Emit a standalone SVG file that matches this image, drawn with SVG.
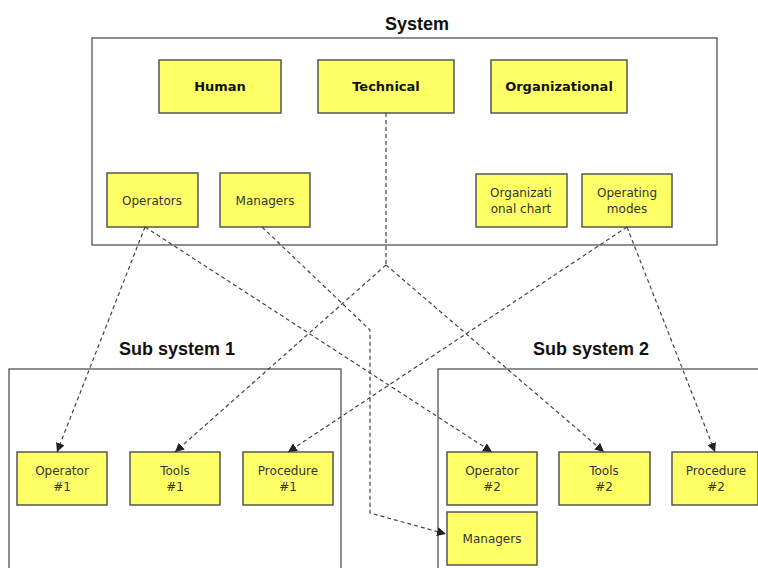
<svg xmlns="http://www.w3.org/2000/svg" width="758" height="568" viewBox="0 0 758 568">
<defs>
<style>
.frame{fill:#fff;stroke:#444;stroke-width:1.2}
.box{fill:#ffff66;stroke:#555;stroke-width:1.5}
.t{font-family:"Liberation Sans",Arial,sans-serif;font-weight:bold;font-size:18px;fill:#111;text-anchor:middle}
.b{font-family:"DejaVu Sans","Noto Sans",sans-serif;font-weight:bold;font-size:13px;fill:#111;text-anchor:middle}
.n{font-family:"DejaVu Sans","Noto Sans",sans-serif;font-size:12px;fill:#333;text-anchor:middle}
.c{fill:none;stroke:#444;stroke-width:1.2;stroke-dasharray:4 3}
</style>
<marker id="ah" viewBox="0 0 10 10" refX="10" refY="5" markerWidth="9" markerHeight="9" markerUnits="userSpaceOnUse" orient="auto">
<path d="M0,0 L10,5 L0,10 z" fill="#222"/>
</marker>
</defs>
<rect width="758" height="568" fill="#fff"/>

<g id="system">
<rect class="frame" x="92" y="38" width="625" height="207"/>
<text class="t" x="417" y="30">System</text>
</g>
<g id="subsystem1">
<rect class="frame" x="9" y="369" width="332" height="210"/>
<text class="t" x="177" y="355">Sub system 1</text>
</g>
<g id="subsystem2">
<rect class="frame" x="438" y="369" width="330" height="210"/>
<text class="t" x="591" y="355">Sub system 2</text>
</g>

<g id="human"><rect class="box" x="159" y="60" width="122" height="53"/><text class="b" x="220" y="91">Human</text></g>
<g id="technical"><rect class="box" x="318" y="60" width="136" height="53"/><text class="b" x="386" y="91">Technical</text></g>
<g id="organizational"><rect class="box" x="491" y="60" width="136" height="53"/><text class="b" x="559" y="91">Organizational</text></g>

<g id="operators"><rect class="box" x="107" y="173" width="91" height="54"/><text class="n" x="152" y="205">Operators</text></g>
<g id="managers"><rect class="box" x="220" y="173" width="90" height="54"/><text class="n" x="265" y="205">Managers</text></g>
<g id="orgchart"><rect class="box" x="476" y="174" width="91" height="53"/><text class="n" x="521" y="197">Organizati</text><text class="n" x="521" y="213">onal chart</text></g>
<g id="opmodes"><rect class="box" x="582" y="174" width="90" height="53"/><text class="n" x="627" y="197">Operating</text><text class="n" x="627" y="213">modes</text></g>

<g id="operator1"><rect class="box" x="17" y="452" width="90" height="53"/><text class="n" x="62" y="475">Operator</text><text class="n" x="62" y="491">#1</text></g>
<g id="tools1"><rect class="box" x="130" y="452" width="90" height="53"/><text class="n" x="175" y="475">Tools</text><text class="n" x="175" y="491">#1</text></g>
<g id="procedure1"><rect class="box" x="243" y="452" width="90" height="53"/><text class="n" x="288" y="475">Procedure</text><text class="n" x="288" y="491">#1</text></g>

<g id="operator2"><rect class="box" x="447" y="452" width="90" height="53"/><text class="n" x="492" y="475">Operator</text><text class="n" x="492" y="491">#2</text></g>
<g id="tools2"><rect class="box" x="559" y="452" width="91" height="53"/><text class="n" x="604" y="475">Tools</text><text class="n" x="604" y="491">#2</text></g>
<g id="procedure2"><rect class="box" x="672" y="452" width="86" height="53"/><text class="n" x="716" y="475">Procedure</text><text class="n" x="716" y="491">#2</text></g>
<g id="managers2"><rect class="box" x="447" y="512" width="90" height="53"/><text class="n" x="492" y="543">Managers</text></g>

<g id="connectors">
<path class="c" d="M386,113 L386,265"/>
<path class="c" d="M386,265 L175,452" marker-end="url(#ah)"/>
<path class="c" d="M386,265 L604,452" marker-end="url(#ah)"/>
<path class="c" d="M145,227 L57,452" marker-end="url(#ah)"/>
<path class="c" d="M145,227 L492,452" marker-end="url(#ah)"/>
<path class="c" d="M262,227 L370,330 L370,513 L446,534" marker-end="url(#ah)"/>
<path class="c" d="M627,227 L288,452" marker-end="url(#ah)"/>
<path class="c" d="M627,227 L715,452" marker-end="url(#ah)"/>
</g>
</svg>
